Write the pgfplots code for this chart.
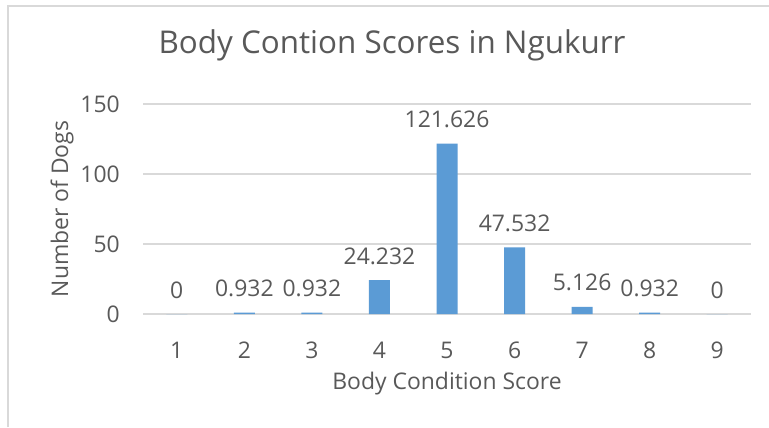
\documentclass[border=0pt]{standalone}
\usepackage{fontspec}
\setmainfont{Open Sans}
\usepackage{pgfplots}
\pgfplotsset{compat=1.18}
\definecolor{barblue}{HTML}{5B9BD5}
\definecolor{txtgray}{HTML}{595959}
\definecolor{gridgray}{HTML}{D9D9D9}
\newcommand{\lbl}{\fontsize{23}{27}\selectfont}

\begin{document}
\begin{tikzpicture}[x=1bp,y=1bp]
\fill[white] (0,0) rectangle (769,427);
\useasboundingbox (0,0) rectangle (769,427);
\draw[gridgray, line width=1.5bp] (8,0) -- (8,421) -- (769,421);
\node[text=txtgray, font=\fontsize{31.5}{36}\selectfont] at (392,382) {Body Contion Scores in Ngukurr};

\begin{axis}[
  at={(143bp,113bp)}, anchor=south west,
  scale only axis, width=608bp, height=210bp,
  xmin=0.5, xmax=9.5, ymin=0, ymax=150,
  ybar, bar width=21bp,
  xtick={1,...,9}, ytick={0,50,100,150},
  axis line style={draw=none},
  tick style={draw=none},
  ymajorgrids, grid style={gridgray, line width=1.3bp},
  ticklabel style={font=\lbl, text=txtgray},
  xticklabel style={anchor=center, inner sep=0pt, yshift=-32bp},
  yticklabel style={anchor=east, inner sep=0pt, xshift=-23bp},
  /pgf/number format/assume math mode=true,
  xlabel={Body Condition Score},
  ylabel={Number of Dogs},
  every axis x label/.style={at={(axis description cs:0.5,-0.333)}, anchor=center, font=\lbl, text=txtgray},
  every axis y label/.style={at={(axis description cs:-0.1332,0.5)}, rotate=90, anchor=center, font=\lbl, text=txtgray},
  nodes near coords={\pgfmathprintnumber[fixed, precision=3]{\pgfplotspointmeta}},
  every node near coord/.append style={font=\lbl, text=txtgray, anchor=center, yshift=24bp},
]
\addplot[fill=barblue, draw=none] coordinates {
  (1,0) (2,0.932) (3,0.932) (4,24.232) (5,121.626)
  (6,47.532) (7,5.126) (8,0.932) (9,0)
};
\end{axis}
\end{tikzpicture}
\end{document}
